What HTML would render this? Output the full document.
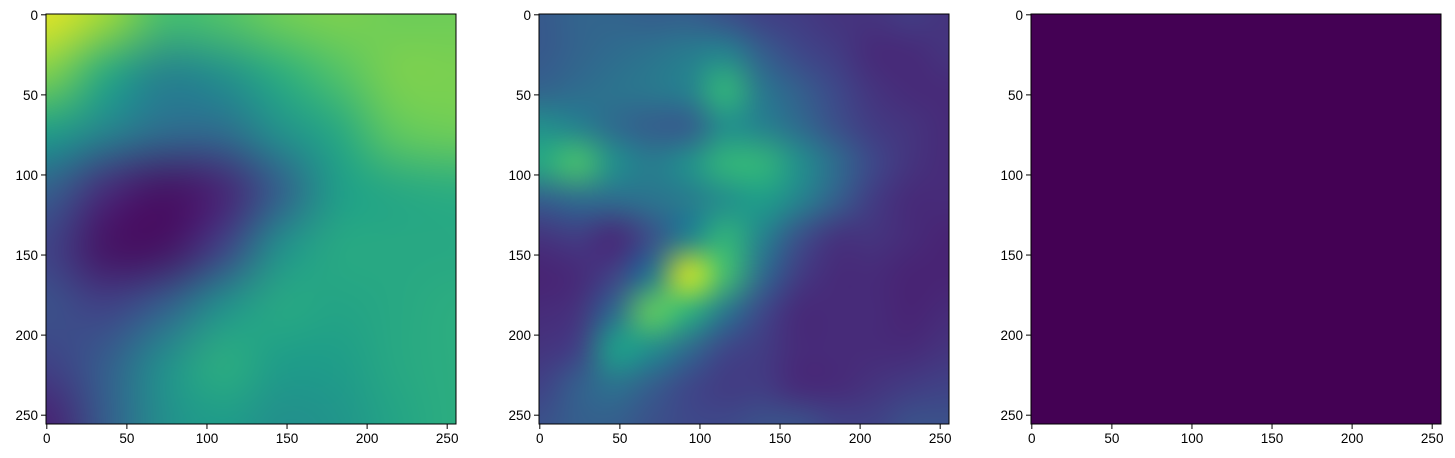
<!DOCTYPE html>
<html><head><meta charset="utf-8"><style>
body{margin:0;background:#fff;width:1455px;height:458px;overflow:hidden;position:relative;font-family:"Liberation Sans",sans-serif}
canvas{position:absolute;width:410px;height:410px}
svg{position:absolute;left:0;top:0}
</style></head><body>
<canvas id="c0" width="410" height="410" style="left:46px;top:14px"></canvas>
<canvas id="c1" width="410" height="410" style="left:539px;top:14px"></canvas>
<canvas id="c2" width="410" height="410" style="left:1031px;top:14px"></canvas>
<svg id="ov" width="1455" height="458"></svg>
<script>
const tickValues=[0,50,100,150,200,250];
const tickLabels=["0","50","100","150","200","250"];
const imageSize=256;
const panel1=[
[.95,.85,.7,.72,.78,.8,.78,.78],
[.8,.6,.45,.5,.62,.72,.8,.8],
[.55,.45,.35,.35,.5,.6,.75,.78],
[.3,.12,.05,.1,.3,.55,.6,.62],
[.2,.05,.05,.2,.5,.6,.6,.6],
[.25,.2,.3,.5,.6,.58,.6,.62],
[.2,.3,.5,.62,.55,.55,.6,.62],
[.1,.3,.5,.55,.5,.52,.58,.62]];
const panel2=[
[.28,.32,.32,.3,.3,.25,.2,.18,.15,.15,.18,.15],
[.28,.32,.35,.38,.42,.45,.3,.22,.18,.12,.12,.15],
[.32,.35,.38,.4,.45,.65,.4,.3,.22,.15,.12,.12],
[.5,.45,.35,.3,.3,.5,.45,.35,.25,.18,.15,.12],
[.6,.7,.5,.42,.5,.65,.65,.5,.35,.22,.15,.12],
[.3,.35,.35,.38,.42,.5,.55,.45,.3,.18,.12,.12],
[.15,.18,.12,.25,.45,.65,.45,.25,.15,.15,.12,.1],
[.1,.12,.2,.4,.92,.7,.35,.18,.12,.12,.1,.1],
[.12,.15,.35,.75,.65,.4,.22,.12,.12,.12,.1,.12],
[.15,.2,.55,.5,.35,.22,.18,.12,.12,.12,.12,.15],
[.2,.3,.38,.3,.22,.18,.18,.12,.12,.15,.18,.2],
[.25,.3,.3,.25,.22,.22,.25,.25,.2,.2,.25,.25]];
const panel3=[[0,0],[0,0]];
const panels=[panel1,panel2,panel3];
const stops=[[68,1,84],[72,40,120],[62,73,137],[49,104,142],[38,130,142],[31,158,137],[53,183,121],[109,205,89],[180,222,44],[253,231,37]];
function viridis(v){v=Math.max(0,Math.min(1,v));const f=v*(stops.length-1),i=Math.min(Math.floor(f),stops.length-2),t=f-i;const a=stops[i],b=stops[i+1];return [0,1,2].map(k=>Math.round(a[k]+(b[k]-a[k])*t));}
const lefts=[46,539,1031],top0=14,sz=410;
panels.forEach((g,p)=>{
  const n=g.length,m=g[0].length;
  const sc=document.createElement('canvas');sc.width=m;sc.height=n;
  const sctx=sc.getContext('2d');const img=sctx.createImageData(m,n);
  g.forEach((row,r)=>row.forEach((v,c)=>{const col=viridis(v);const o=(r*m+c)*4;img.data[o]=col[0];img.data[o+1]=col[1];img.data[o+2]=col[2];img.data[o+3]=255;}));
  sctx.putImageData(img,0,0);
  const ctx=document.getElementById('c'+p).getContext('2d');
  ctx.imageSmoothingEnabled=true;ctx.imageSmoothingQuality='high';
  ctx.drawImage(sc,-sz/m/2,-sz/n/2,sz+sz/m,sz+sz/n);
});
const ov=document.getElementById('ov');const NS='http://www.w3.org/2000/svg';
function mk(t,a){const e=document.createElementNS(NS,t);for(const k in a)e.setAttribute(k,a[k]);ov.appendChild(e);return e;}
const scale=v=>(v+0.5)*sz/imageSize;
lefts.forEach((L,p)=>{
  const fr=mk('rect',{x:L,y:top0,width:sz,height:sz,fill:'none',stroke:'#000','stroke-width':1});
  
  
  tickValues.forEach((v,i)=>{
    const x=L+scale(v),y=top0+scale(v);
    mk('line',{x1:x,y1:top0+sz,x2:x,y2:top0+sz+5,stroke:'#000'});
    const tx=mk('text',{x:x,y:top0+sz+19,'font-size':13.5,'text-anchor':'middle',fill:'#000'});
    tx.textContent=tickLabels[i];
    
    
    mk('line',{x1:L-5,y1:y,x2:L,y2:y,stroke:'#000'});
    const ty=mk('text',{x:L-8,y:y+5,'font-size':13.5,'text-anchor':'end',fill:'#000'});
    ty.textContent=tickLabels[i];
    
    
  });
});
</script>
</body></html>
